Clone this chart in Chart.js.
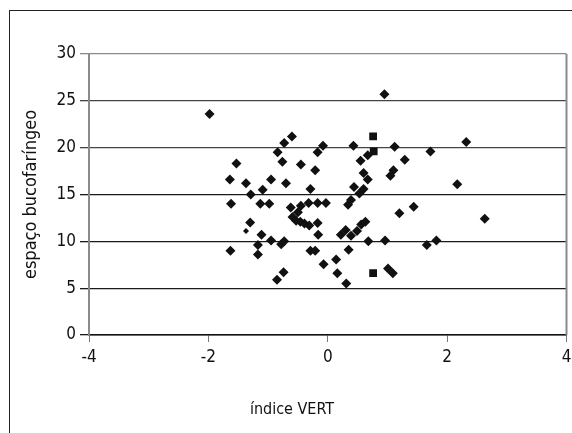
<!DOCTYPE html>
<html>
<head>
<meta charset="utf-8">
<script src="https://cdn.jsdelivr.net/npm/chart.js@4.4.0/dist/chart.umd.min.js"></script>
<style>
    html, body { margin: 0; padding: 0; background: #fff; overflow: hidden; }
    #wrap { position: relative; width: 572px; height: 433px; }
    #frame { position: absolute; left: 9px; top: 10px; width: 600px; height: 500px; border: 1px solid #222; }
    canvas { position: absolute; left: 0; top: 0; }
</style>
</head>
<body>
<div id="wrap">
    <div id="frame"></div>
    <canvas id="scatter" width="572" height="433"></canvas>
</div>
<script>
    "use strict";

    // Data (diamonds)
    var vertIndex = [
        -1.98, -0.60, -0.73, -0.84, -1.53, -0.76, -0.45, -1.64, -0.95, -1.37,
        -0.70, -1.09, -1.29, -1.62, -1.13, -0.98, -0.62, -1.30, -1.11, -0.95,
        -0.73, -0.78, -1.63, -1.17, -1.17, -0.74, -0.85, -0.08, -0.17, 0.43,
        1.12, 0.67, 0.55, 1.29, -0.21, 0.60, 0.67, 1.10, 1.05, -0.29,
        0.44, 0.60, 0.53, 0.39, 0.34, -0.45, -0.32, -0.17, -0.03, 1.20,
        1.44, -0.50, -0.59, -0.53, -0.46, -0.39, -0.31, -0.17, 0.56, 0.63,
        0.30, -0.16, 0.22, 0.39, 0.49, 0.68, 0.96, -0.29, -0.21, 0.35,
        -0.07, 0.14, 0.16, 0.31, 1.01, 1.09, 2.17, 2.63, 1.66, 1.82,
        2.32, 1.72, 0.95
    ];
    var bucoSpace = [
        23.6, 21.2, 20.5, 19.5, 18.3, 18.5, 18.2, 16.6, 16.6, 16.2,
        16.2, 15.5, 15.0, 14.0, 14.0, 14.0, 13.6, 12.0, 10.7, 10.1,
        10.0, 9.7, 9.0, 9.6, 8.6, 6.7, 5.9, 20.2, 19.5, 20.2,
        20.1, 19.2, 18.6, 18.7, 17.6, 17.3, 16.6, 17.6, 17.0, 15.6,
        15.8, 15.6, 15.1, 14.4, 13.9, 13.8, 14.1, 14.1, 14.1, 13.0,
        13.7, 13.1, 12.6, 12.2, 12.1, 11.9, 11.7, 11.95, 11.8, 12.1,
        11.2, 10.7, 10.7, 10.6, 11.1, 10.0, 10.1, 9.0, 9.0, 9.1,
        7.55, 8.05, 6.6, 5.5, 7.1, 6.6, 16.1, 12.4, 9.6, 10.1,
        20.6, 19.6, 25.7
    ];

    // Data (squares)
    var squareVert = [0.76, 0.77, 0.76];
    var squareBuco = [21.2, 19.6, 6.6];

    // Data (small mark)
    var smallVert = [-1.37];
    var smallBuco = [11.1];

    var xTickValues = [-4, -2, 0, 2, 4];
    var yTickValues = [0, 5, 10, 15, 20, 25, 30];

    function toPoints(xs, ys) {
        var pts = [];
        for (var i = 0; i < xs.length; i++) {
            pts.push({x: xs[i], y: ys[i]});
        }
        return pts;
    }

    var fontFamily = "'DejaVu Sans Condensed', 'Roboto', sans-serif";
    Chart.defaults.font.family = fontFamily;
    Chart.defaults.font.size = 17;
    Chart.defaults.color = "#111";

    // Plot frame (right edge) and x axis title
    var extras = {
        id: 'extras',
        afterDraw: function (chart) {
            var ctx = chart.ctx;
            var a = chart.chartArea;
            ctx.save();
            ctx.strokeStyle = "#8a8a8a";
            ctx.lineWidth = 2;
            ctx.beginPath();
            ctx.moveTo(a.right, a.top);
            ctx.lineTo(a.right, a.bottom);
            ctx.stroke();
            ctx.fillStyle = "#111";
            ctx.font = "16px " + fontFamily;
            ctx.textAlign = "center";
            ctx.textBaseline = "middle";
            ctx.fillText("índice VERT", a.left + 203, 410);
            ctx.restore();
        }
    };

    var ctx1 = document.getElementById("scatter").getContext("2d");
    var myChart = new Chart(ctx1, {
        type: "scatter",
        data: {
            datasets: [{
                label: "diamonds",
                data: toPoints(vertIndex, bucoSpace),
                pointStyle: "rectRot",
                pointRadius: 5,
                borderWidth: 0,
                backgroundColor: "#111",
                borderColor: "#111"
            }, {
                label: "squares",
                data: toPoints(squareVert, squareBuco),
                pointStyle: "rect",
                pointRadius: 5.5,
                borderWidth: 0,
                backgroundColor: "#111",
                borderColor: "#111"
            }, {
                label: "small",
                data: toPoints(smallVert, smallBuco),
                pointStyle: "rectRot",
                pointRadius: 3,
                borderWidth: 0,
                backgroundColor: "#111",
                borderColor: "#111"
            }]
        },
        options: {
            responsive: false,
            animation: false,
            layout: {
                padding: {top: 54, right: 4, left: 0, bottom: 0}
            },
            plugins: {
                legend: {display: false},
                tooltip: {enabled: false}
            },
            scales: {
                x: {
                    type: "linear",
                    min: -4,
                    max: 4,
                    afterFit: function (scale) {
                        scale.height = 98;
                        scale.paddingLeft = 0;
                        scale.paddingRight = 0;
                    },
                    afterBuildTicks: function (scale) {
                        scale.ticks = xTickValues.map(function (v) { return {value: v}; });
                    },
                    ticks: {padding: 5, color: "#111"},
                    grid: {
                        drawOnChartArea: false,
                        drawTicks: true,
                        tickLength: 7,
                        color: "#777"
                    },
                    border: {color: "#111", width: 1.5}
                },
                y: {
                    type: "linear",
                    min: 0,
                    max: 30,
                    afterFit: function (scale) {
                        scale.width = 89;
                        scale.paddingTop = 0;
                        scale.paddingBottom = 0;
                    },
                    afterBuildTicks: function (scale) {
                        scale.ticks = yTickValues.map(function (v) { return {value: v}; });
                    },
                    ticks: {padding: 4, color: "#111"},
                    grid: {
                        drawTicks: true,
                        tickLength: 9,
                        lineWidth: 1.3,
                        color: function (c) {
                            if (c.tick && c.tick.value === 30) return "#8a8a8a";
                            if (c.tick && c.tick.value >= 20) return "#444";
                            return "#1a1a1a";
                        }
                    },
                    border: {color: "#8a8a8a", width: 2},
                    title: {
                        display: true,
                        text: "espaço bucofaríngeo",
                        color: "#111",
                        font: {size: 18},
                        padding: {top: 21, bottom: 0}
                    }
                }
            }
        },
        plugins: [extras]
    });
</script>
</body>
</html>
